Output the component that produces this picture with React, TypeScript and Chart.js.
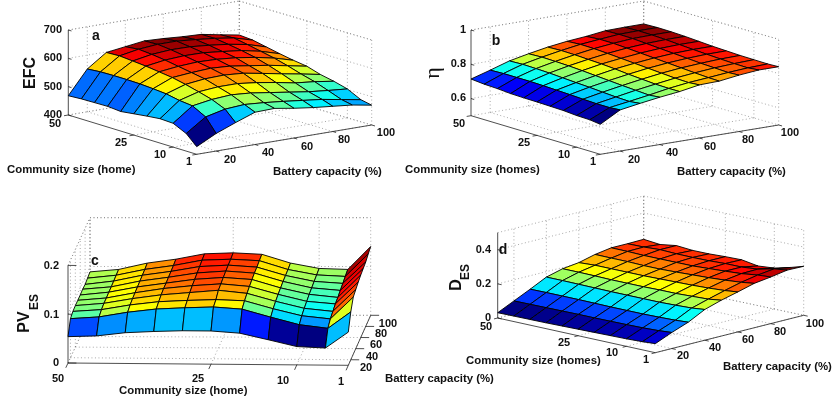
import React, { useEffect, useRef } from "react";
import { Chart, registerables } from "chart.js";

Chart.register(...registerables);

// ---------- data ----------
const communitySizes = [50, 45, 40, 35, 30, 25, 20, 15, 10, 5, 1];
const batteryCapacities = [10, 20, 30, 40, 50, 60, 70, 80, 90, 100];
const communityTicks = [50, 25, 10, 1];
const batteryTicks = [20, 40, 60, 80, 100];

const efcValues = [
  [468, 551, 598, 607, 616, 613, 608, 605, 592, 580],
  [471, 555, 600, 612, 618, 618, 612, 605, 595, 576],
  [472, 556, 596, 608, 613, 612, 606, 598, 586, 566],
  [473, 556, 592, 602, 606, 605, 598, 590, 576, 556],
  [469, 555, 586, 594, 598, 596, 590, 580, 566, 547],
  [475, 552, 580, 586, 590, 586, 576, 566, 553, 540],
  [481, 548, 570, 578, 580, 575, 563, 550, 538, 525],
  [486, 539, 558, 564, 564, 556, 545, 532, 525, 515],
  [484, 534, 545, 550, 545, 535, 525, 515, 508, 502],
  [462, 509, 525, 530, 525, 518, 510, 502, 490, 478],
  [427, 462, 489, 514, 516, 505, 496, 489, 482, 470],
];
const etaValues = [
  [0.714, 0.747, 0.782, 0.805, 0.825, 0.84, 0.85, 0.864, 0.866, 0.866],
  [0.707, 0.75, 0.785, 0.808, 0.828, 0.845, 0.856, 0.866, 0.868, 0.868],
  [0.704, 0.75, 0.783, 0.806, 0.826, 0.843, 0.855, 0.864, 0.866, 0.866],
  [0.698, 0.75, 0.78, 0.803, 0.822, 0.838, 0.85, 0.858, 0.862, 0.862],
  [0.696, 0.748, 0.775, 0.798, 0.818, 0.832, 0.844, 0.852, 0.856, 0.856],
  [0.695, 0.745, 0.77, 0.792, 0.812, 0.826, 0.838, 0.846, 0.85, 0.85],
  [0.693, 0.742, 0.766, 0.786, 0.804, 0.82, 0.832, 0.84, 0.845, 0.846],
  [0.691, 0.738, 0.76, 0.78, 0.798, 0.814, 0.826, 0.834, 0.84, 0.842],
  [0.685, 0.735, 0.755, 0.775, 0.792, 0.808, 0.82, 0.83, 0.836, 0.84],
  [0.683, 0.735, 0.752, 0.77, 0.79, 0.805, 0.815, 0.826, 0.834, 0.838],
  [0.675, 0.74, 0.759, 0.776, 0.79, 0.81, 0.813, 0.829, 0.84, 0.84],
];
const pvEsValues = [
  [0.054, 0.08, 0.084, 0.085, 0.085, 0.085, 0.086, 0.085, 0.087, 0.089],
  [0.056, 0.084, 0.088, 0.09, 0.09, 0.091, 0.091, 0.092, 0.093, 0.094],
  [0.063, 0.094, 0.098, 0.1, 0.101, 0.102, 0.103, 0.104, 0.105, 0.107],
  [0.066, 0.101, 0.105, 0.108, 0.11, 0.11, 0.111, 0.112, 0.113, 0.115],
  [0.068, 0.104, 0.108, 0.113, 0.116, 0.118, 0.12, 0.122, 0.124, 0.126],
  [0.068, 0.106, 0.11, 0.118, 0.12, 0.122, 0.124, 0.125, 0.126, 0.128],
  [0.064, 0.102, 0.108, 0.112, 0.115, 0.118, 0.12, 0.121, 0.123, 0.125],
  [0.051, 0.086, 0.092, 0.096, 0.099, 0.101, 0.103, 0.104, 0.105, 0.107],
  [0.0375, 0.071, 0.078, 0.082, 0.085, 0.088, 0.09, 0.092, 0.094, 0.096],
  [0.035, 0.064, 0.072, 0.076, 0.08, 0.082, 0.085, 0.088, 0.091, 0.094],
  [0.068, 0.098, 0.117, 0.121, 0.125, 0.128, 0.13, 0.132, 0.137, 0.141],
];
const desValues = [
  [0.031, 0.076, 0.121, 0.168, 0.193, 0.205, 0.229, 0.244, 0.244, 0.246],
  [0.032, 0.077, 0.122, 0.168, 0.193, 0.21, 0.228, 0.243, 0.245, 0.236],
  [0.033, 0.078, 0.122, 0.167, 0.192, 0.21, 0.228, 0.24, 0.25, 0.25],
  [0.034, 0.079, 0.122, 0.166, 0.19, 0.21, 0.225, 0.24, 0.246, 0.242],
  [0.036, 0.08, 0.121, 0.165, 0.19, 0.21, 0.225, 0.24, 0.245, 0.242],
  [0.038, 0.08, 0.12, 0.165, 0.19, 0.212, 0.228, 0.24, 0.246, 0.246],
  [0.04, 0.081, 0.12, 0.165, 0.192, 0.214, 0.232, 0.245, 0.25, 0.248],
  [0.042, 0.082, 0.12, 0.165, 0.192, 0.216, 0.236, 0.25, 0.25, 0.232],
  [0.044, 0.084, 0.122, 0.168, 0.196, 0.22, 0.242, 0.256, 0.258, 0.24],
  [0.048, 0.088, 0.125, 0.172, 0.2, 0.226, 0.25, 0.268, 0.28, 0.264],
  [0.053, 0.094, 0.13, 0.18, 0.21, 0.234, 0.26, 0.273, 0.289, 0.287],
];

// ---------- layout ----------
type XY = [number, number];
type Panel = {
  values: number[][];
  zMin: number; zMax: number; zTicks: number[]; zLabels: string[];
  p00: XY; p10: XY; p11: XY; p01: XY; zPx: number;
  tickU: number; tickV: number;
  zRight: number; zLabelY: number[];
  commLabelPos: XY[]; batLabelPos: XY[];
  commTitle: string; commTitleX: number; commTitleY: number;
  batTitleX: number; batTitleY: number;
  letter: string; letterPos: XY;
};

const panels: Panel[] = [
  {
    values: efcValues, zMin: 400, zMax: 700, zTicks: [400, 500, 600, 700], zLabels: ["400", "500", "600", "700"],
    p00: [68.3, 115], p10: [196.7, 154.3], p11: [371.7, 125], p01: [239.3, 86], zPx: 85 / 300,
    tickU: 0.025, tickV: 0.025, zRight: 62, zLabelY: [115, 87, 58, 30],
    commLabelPos: [[55, 124], [121, 143], [160, 155], [189, 162]],
    batLabelPos: [[230, 160], [268, 153], [307, 147], [344, 140], [386, 133]],
    commTitle: "Community size (home)", commTitleX: 7, commTitleY: 170, batTitleX: 273, batTitleY: 172,
    letter: "a", letterPos: [96, 36],
  },
  {
    values: etaValues, zMin: 0.5, zMax: 1, zTicks: [0.6, 0.8, 1], zLabels: ["0.6", "0.8", "1"],
    p00: [471, 115.7], p10: [600.3, 154.3], p11: [778.7, 125], p01: [643.7, 86.7], zPx: 85.7 / 0.5,
    tickU: 0.025, tickV: 0.025, zRight: 466, zLabelY: [98, 64, 30],
    commLabelPos: [[459, 124], [524, 143], [564, 155], [593, 162]],
    batLabelPos: [[634, 160], [672, 153], [710, 147], [748, 140], [790, 133]],
    commTitle: "Community size (homes)", commTitleX: 405, commTitleY: 170, batTitleX: 677, batTitleY: 172,
    letter: "b", letterPos: [496, 41],
  },
  {
    values: pvEsValues, zMin: 0, zMax: 0.2, zTicks: [0, 0.1, 0.2], zLabels: ["0", "0.1", "0.2"],
    p00: [68, 363], p10: [348.3, 365.3], p11: [370.7, 315.3], p01: [90, 315.3], zPx: 488,
    tickU: 0.03, tickV: 0.1, zRight: 59, zLabelY: [363, 315, 266],
    commLabelPos: [[58, 379], [198, 379], [283, 381], [341, 382]],
    batLabelPos: [[366, 368], [372, 357], [376, 345], [381, 334], [388, 324]],
    commTitle: "Community size (home)", commTitleX: 119, commTitleY: 391, batTitleX: 385, batTitleY: 379,
    letter: "c", letterPos: [95, 261],
  },
  {
    values: desValues, zMin: 0, zMax: 0.5, zTicks: [0, 0.2, 0.4], zLabels: ["0", "0.2", "0.4"],
    p00: [497.7, 318], p10: [655.3, 352.7], p11: [803.7, 315.3], p01: [643.7, 281.3], zPx: 170.7,
    tickU: 0.025, tickV: 0.025, zRight: 491, zLabelY: [318, 284, 250],
    commLabelPos: [[486, 327], [564, 343], [612, 353], [646, 360]],
    batLabelPos: [[683, 356], [715, 348], [748, 340], [780, 332], [815, 324]],
    commTitle: "Community size (homes)", commTitleX: 466, commTitleY: 361, batTitleX: 723, batTitleY: 367,
    letter: "d", letterPos: [503, 250],
  },
];

const commU = (c: number) => (50 - c) / 49;
const batV = (b: number) => (b - 10) / 90;

function project(p: Panel, u: number, v: number, z: number) {
  const lerp = (k: 0 | 1) =>
    p.p00[k] * (1 - u) * (1 - v) + p.p10[k] * u * (1 - v) + p.p11[k] * u * v + p.p01[k] * (1 - u) * v;
  return { x: lerp(0), y: lerp(1) - (z - p.zMin) * p.zPx };
}

function jet(t: number) {
  const c = (x: number) => Math.round(255 * Math.max(0, Math.min(1, x)));
  const r = Math.min(4 * t - 1.5, -4 * t + 4.5);
  const g = Math.min(4 * t - 0.5, -4 * t + 3.5);
  const b = Math.min(4 * t + 0.5, -4 * t + 2.5);
  return `rgb(${c(r)},${c(g)},${c(b)})`;
}

function lineSet(points: { x: number; y: number }[], color: string, width: number, dash: number[] = []) {
  return {
    data: points, showLine: true, fill: false, borderColor: color, borderWidth: width,
    borderDash: dash, pointRadius: 0, tension: 0,
  };
}

function buildDatasets() {
  const back: any[] = [];
  const gridColor = "rgba(110,110,110,0.75)";
  const dash = [1, 2.5];
  for (const p of panels) {
    const grid = (a: [number, number, number], b: [number, number, number]) =>
      back.push(lineSet([project(p, a[0], a[1], a[2]), project(p, b[0], b[1], b[2])], gridColor, 0.8, dash));
    for (const c of communityTicks) {
      const u = commU(c);
      grid([u, 0, p.zMin], [u, 1, p.zMin]);
      grid([u, 1, p.zMin], [u, 1, p.zMax]);
    }
    for (const b of batteryTicks) {
      const v = batV(b);
      grid([0, v, p.zMin], [1, v, p.zMin]);
      grid([0, v, p.zMin], [0, v, p.zMax]);
    }
    for (const z of [...p.zTicks, p.zMax]) {
      grid([0, 0, z], [0, 1, z]);
      grid([0, 1, z], [1, 1, z]);
    }
    grid([0, 1, p.zMin], [0, 1, p.zMax]);
    // solid axes and ticks
    const solid = (a: [number, number, number], b: [number, number, number]) =>
      back.push(lineSet([project(p, a[0], a[1], a[2]), project(p, b[0], b[1], b[2])], "#222", 0.8));
    solid([0, 0, p.zMin], [0, 0, p.zMax]);
    solid([0, 0, p.zMin], [1, 0, p.zMin]);
    solid([1, 0, p.zMin], [1, 1, p.zMin]);
    for (const c of communityTicks) solid([commU(c), 0, p.zMin], [commU(c), -p.tickV, p.zMin]);
    for (const b of batteryTicks) solid([1, batV(b), p.zMin], [1 + p.tickU, batV(b), p.zMin]);
    for (const z of p.zTicks) solid([0, 0, z], [p.tickU, 0, z]);

    // surface, far cells first
    const all = p.values.flat();
    const lo = Math.min(...all);
    const hi = Math.max(...all);
    for (let i = 0; i < communitySizes.length - 1; i++) {
      for (let j = batteryCapacities.length - 2; j >= 0; j--) {
        const corner = (a: number, b: number) =>
          project(p, commU(communitySizes[a]), batV(batteryCapacities[b]), p.values[a][b]);
        back.push({
          data: [corner(i, j), corner(i + 1, j), corner(i + 1, j + 1), corner(i, j + 1), corner(i, j)],
          showLine: true, fill: "shape", borderColor: "#000", borderWidth: 0.9,
          backgroundColor: jet((p.values[i + 1][j] - lo) / (hi - lo)), pointRadius: 0, tension: 0,
        });
      }
    }
  }
  // Chart.js paints the last dataset first
  return back.reverse();
}

const textPlugin = {
  id: "panelText",
  afterDraw(chart: any) {
    const ctx: CanvasRenderingContext2D = chart.ctx;
    const sans = "'Liberation Sans', Arial, sans-serif";
    const put = (s: string, x: number, y: number, font: string, align: CanvasTextAlign = "center", rot = 0) => {
      ctx.save();
      ctx.translate(x, y);
      if (rot) ctx.rotate(rot);
      ctx.font = font;
      ctx.textAlign = align;
      ctx.textBaseline = "middle";
      ctx.fillStyle = "#111";
      ctx.fillText(s, 0, 0);
      ctx.restore();
    };
    const tick = `bold 11px ${sans}`;
    const title = `bold 11.4px ${sans}`;
    panels.forEach((p) => {
      p.zLabels.forEach((s, k) => put(s, p.zRight, p.zLabelY[k], tick, "right"));
      communityTicks.forEach((c, k) => put(String(c), p.commLabelPos[k][0], p.commLabelPos[k][1], tick));
      batteryTicks.forEach((b, k) => put(String(b), p.batLabelPos[k][0], p.batLabelPos[k][1], tick));
      put(p.commTitle, p.commTitleX, p.commTitleY, title, "left");
      put("Battery capacity (%)", p.batTitleX, p.batTitleY, title, "left");
      put(p.letter, p.letterPos[0], p.letterPos[1], `bold 14px ${sans}`);
    });
    const up = -Math.PI / 2;
    put("EFC", 31, 73, `bold 16px ${sans}`, "center", up);
    put("\u03B7", 433, 73, `22px 'Liberation Serif', serif`, "center", up);
    put("PV", 25, 322, `bold 16px ${sans}`, "center", up);
    put("ES", 35, 302, `bold 12px ${sans}`, "center", up);
    put("D", 457, 285, `bold 16px ${sans}`, "center", up);
    put("ES", 466, 272, `bold 12px ${sans}`, "center", up);
  },
};

export default function App() {
  const ref = useRef<HTMLCanvasElement>(null);
  useEffect(() => {
    if (!ref.current) return;
    const chart = new Chart(ref.current, {
      type: "scatter",
      data: { datasets: buildDatasets() },
      options: {
        animation: false,
        responsive: false,
        events: [],
        layout: { padding: 0 },
        scales: {
          x: { type: "linear", min: 0, max: 833, display: false },
          y: { type: "linear", min: 0, max: 404, reverse: true, display: false },
        },
        plugins: {
          legend: { display: false },
          tooltip: { enabled: false },
          filler: { drawTime: "beforeDatasetDraw", propagate: false },
        },
      } as any,
      plugins: [textPlugin],
    });
    return () => chart.destroy();
  }, []);
  return (
    <div style={{ position: "absolute", left: 0, top: 0, width: 833, height: 404, background: "#fff" }}>
      <canvas ref={ref} width={833} height={404} style={{ display: "block" }} />
    </div>
  );
}
